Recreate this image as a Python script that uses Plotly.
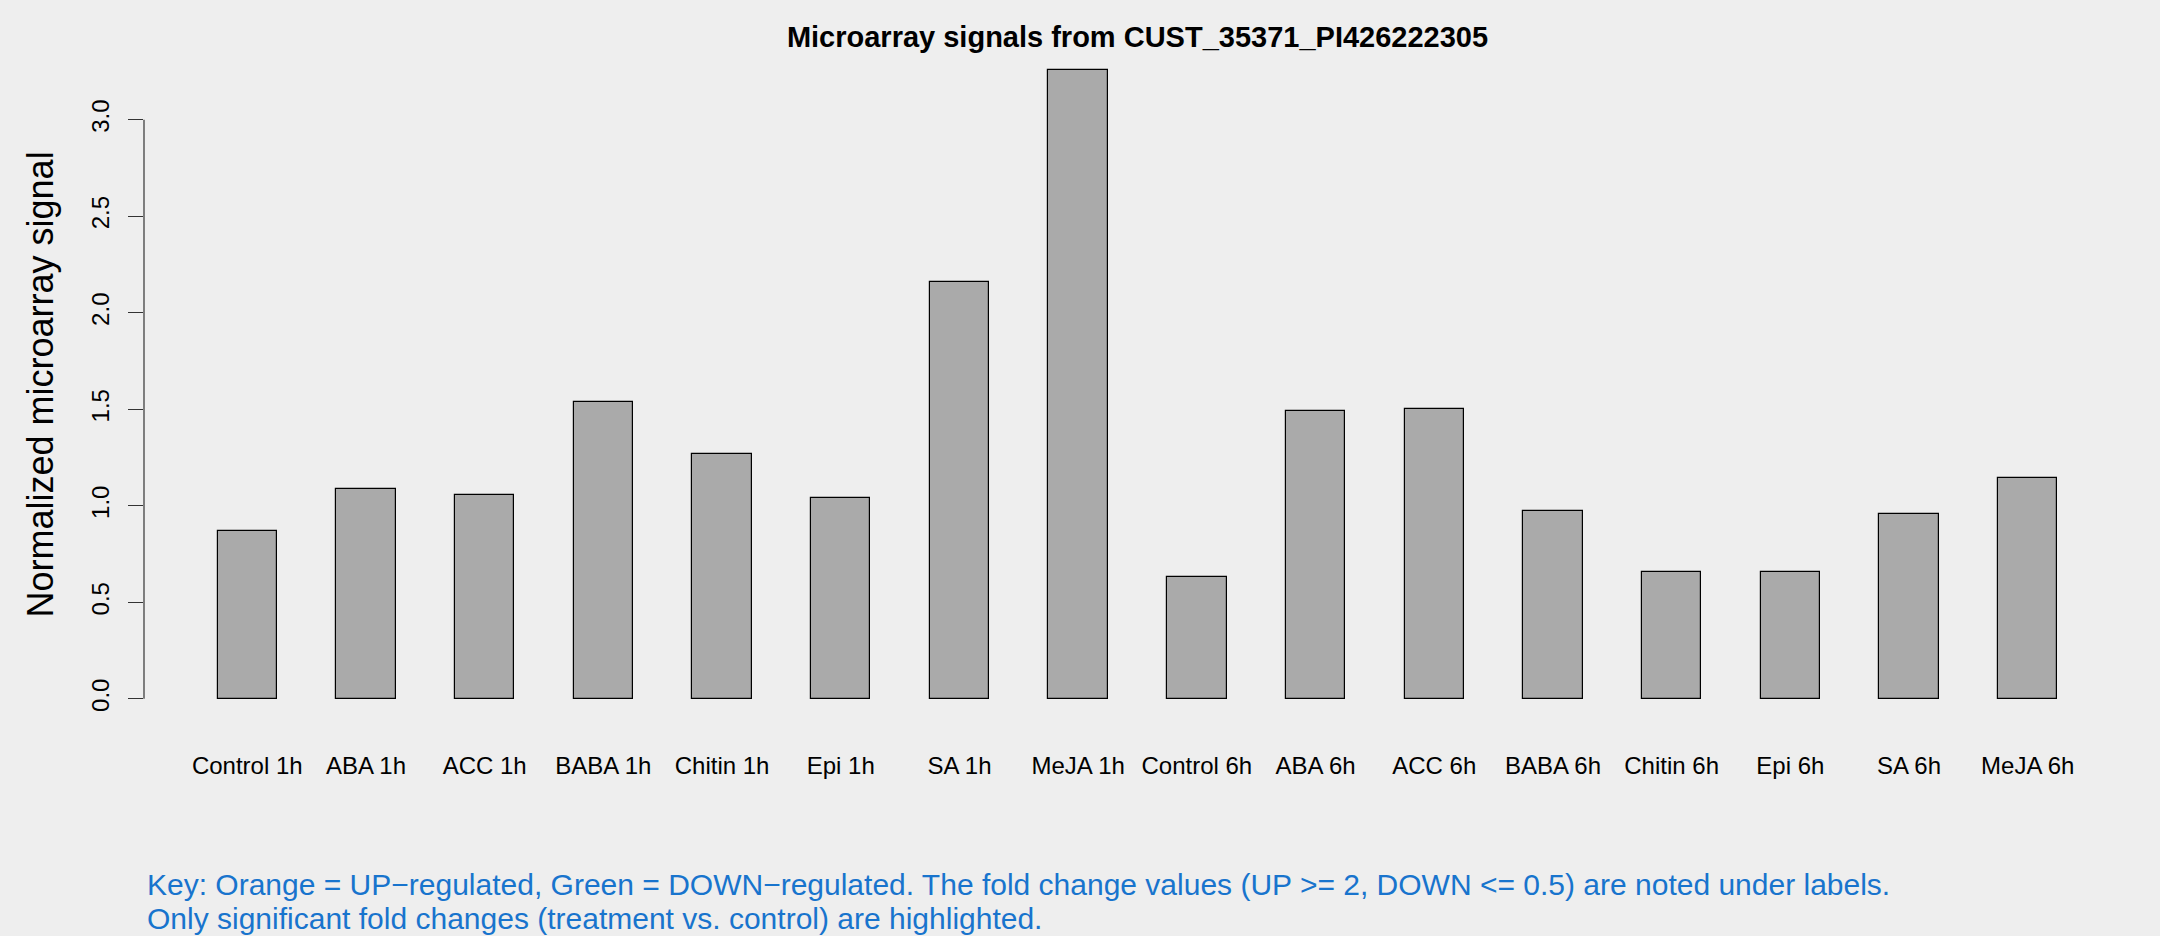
import plotly.graph_objects as go

# ---- data ----
categories = ["Control 1h", "ABA 1h", "ACC 1h", "BABA 1h", "Chitin 1h", "Epi 1h",
              "SA 1h", "MeJA 1h", "Control 6h", "ABA 6h", "ACC 6h", "BABA 6h",
              "Chitin 6h", "Epi 6h", "SA 6h", "MeJA 6h"]
signal = [0.867, 1.088, 1.055, 1.540, 1.271, 1.041, 2.157, 3.257,
          0.630, 1.491, 1.501, 0.972, 0.659, 0.657, 0.958, 1.145]
y_ticks = [0, 0.5, 1.0, 1.5, 2.0, 2.5, 3.0]
y_tick_labels = ["0.0", "0.5", "1.0", "1.5", "2.0", "2.5", "3.0"]
title_text = "Microarray signals from CUST_35371_PI426222305"
ylabel_text = "Normalized microarray signal"
key_lines = ["Key: Orange = UP\u2212regulated, Green = DOWN\u2212regulated. The fold change values (UP >= 2, DOWN <= 0.5) are noted under labels.",
             "Only significant fold changes (treatment vs. control) are highlighted."]

# R barplot geometry: bar width 1, space 1 -> centers at 1.5, 3.5, ...
xpos = [1.5 + 2 * i for i in range(len(categories))]
xmin, xmax = 1.0, 2.0 * len(categories)
xpad = 0.04 * (xmax - xmin)
ymax = max(signal)
ypad = 0.04 * ymax

W, H = 2160, 936
ML, MR, MT, MB = 144, 29, 45, 212
plot_h = H - MT - MB

FONT = "Liberation Sans, Arial, Helvetica, sans-serif"
BG = "#EEEEEE"

fig = go.Figure()
fig.add_trace(go.Bar(
    x=xpos, y=signal, width=1.0,
    marker=dict(color="#AAAAAA", line=dict(color="#000000", width=1.2)),
    hovertext=categories, showlegend=False,
))

def py(p):
    return (H - MB - p) / plot_h

fig.update_layout(
    width=W, height=H,
    margin=dict(l=ML, r=MR, t=MT, b=MB, autoexpand=False),
    paper_bgcolor=BG, plot_bgcolor=BG,
    font=dict(family=FONT, color="#000000"),
    bargap=0,
    title=dict(text=title_text, x=(ML + (W - MR)) / 2 / W, xanchor="center",
               xref="container", yref="container", y=1 - 36.5 / H, yanchor="middle",
               font=dict(size=29, family=FONT, color="#000000", weight="bold")),
    xaxis=dict(range=[xmin - xpad, xmax + xpad], showgrid=False, zeroline=False,
               showline=False, tickmode="array", tickvals=xpos, ticktext=categories,
               ticks="", tickfont=dict(size=24, family=FONT, color="#000000"),
               ticklabelstandoff=25, fixedrange=True),
    yaxis=dict(range=[-ypad, ymax + ypad], showgrid=False, zeroline=False,
               showline=False, tickmode="array", tickvals=y_ticks, ticktext=y_tick_labels,
               ticks="outside", ticklen=15, tickwidth=1, tickcolor="#333333",
               tickangle=-90, tickfont=dict(size=24, family=FONT, color="#000000"),
               ticklabelstandoff=9, fixedrange=True),
)

# y axis line spanning the tick range (as in R)
fig.add_shape(type="line", xref="paper", yref="y", x0=0, x1=0, y0=y_ticks[0], y1=y_ticks[-1],
              line=dict(color="#333333", width=1.2))

fig.add_annotation(text=ylabel_text, xref="paper", yref="paper",
                   x=(40 - ML) / (W - ML - MR), y=0.5, xanchor="center", yanchor="middle",
                   textangle=-90, showarrow=False,
                   font=dict(size=36, family=FONT, color="#000000"))

for i, (line, base) in enumerate(zip(key_lines, [894, 929])):
    fig.add_annotation(text=line, xref="paper", yref="paper",
                       x=(145 - ML) / (W - ML - MR), y=py(base - 10),
                       xanchor="left", yanchor="middle", showarrow=False, align="left",
                       font=dict(size=30, family=FONT, color="#1874CD"))

fig.write_html("out.html", config={"displayModeBar": False},
               post_script="document.body.style.margin='0';document.body.style.background='#EEEEEE';")
